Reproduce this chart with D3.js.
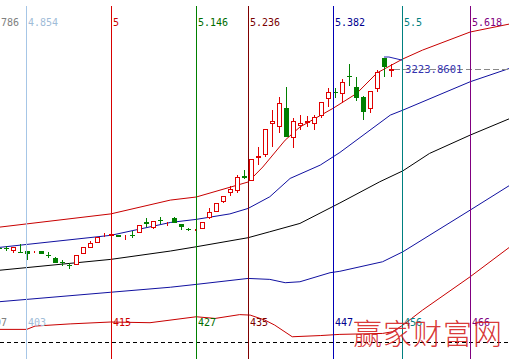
<!DOCTYPE html>
<html><head><meta charset="utf-8">
<script src="https://cdn.jsdelivr.net/npm/d3@7/dist/d3.min.js"></script>
<style>html,body{margin:0;padding:0;background:#fff;overflow:hidden}</style>
</head><body>
<svg id="c" width="509" height="359"></svg>
<script>
// ---- data ----
const barStart = 399;
const opens  = [2472,2472,2467,2458,2460,2455,2462,2444,2433,2415,2402,2407,2454,2479,2500,2531,2528,2529,2524,2528,2542,2584,2561,2590,2577,2601,2573,2554,2548,2556,2605,2630,2671,2709,2717,2777,2759,2854,2869,3000,2986,3060,2941,2992,3005,2999,3032,3102,3129,3123,3198,3149,3107,3063,3147,3270,3220.5];
const highs  = [2474,2481,2477,2492,2461,2461,2463,2457,2435,2423,2411,2444,2480,2503,2522,2536,2534,2530,2527,2545,2571,2601,2589,2604,2581,2602,2574,2558,2554,2584,2642,2662,2693,2734,2780,2801,2846,2899,2973,3053,3109,3151,3018,3032,3030,3032,3088,3144,3144,3182,3245,3191,3112,3134,3221,3271,3245];
const lows   = [2468,2461,2453,2455,2425,2452,2449,2430,2410,2400,2386,2406,2453,2475,2499,2520,2526,2521,2507,2516,2537,2563,2554,2575,2566,2579,2549,2547,2544,2556,2596,2630,2663,2692,2705,2762,2759,2822,2856,2899,2958,2938,2892,2969,2982,2969,3018,3067,3102,3081,3154,3092,3011,3042,3130,3193,3193];
const closes = [2470,2470,2477,2456,2449,2458,2450,2440,2412,2409,2397,2444,2479,2496,2521,2534,2531,2522,2526,2523,2570,2573,2588,2586,2580,2580,2561,2551,2551,2584,2626,2661,2692,2720,2771,2769,2846,2860,2972,3008,3084,2939,3007,3000,3009,3022,3088,3127,3125,3172,3194,3102,3046,3134,3212,3235,3223.8601];

const upperRed  = [[399,2561],[415,2617],[423.5,2675],[427.2,2688],[434.6,2751],[436.7,2814],[439.9,2927],[442,2982],[446.7,3060],[450.1,3123],[453,3209],[456.7,3268],[459.5,3305],[466.3,3381],[472,3415]];
const upperBlue = [[399,2476],[415,2527],[423.5,2581],[427.2,2594],[432,2617],[434.6,2640],[437.7,2689],[440.6,2766],[444.9,2822],[447.7,2875],[454.9,3032],[456.7,3053],[466.3,3172],[472,3229]];
const midBlack  = [[399,2380],[415,2426],[423.5,2461],[427.2,2479],[434.6,2517],[437.7,2542],[442,2577],[447.7,2663],[453.4,2752],[456.7,2798],[460.5,2871],[466.3,2948],[472,3018]];
const lowerBlue = [[399,2248],[415,2288],[423.5,2309],[427.2,2321],[434.6,2346],[437.7,2342],[439.9,2328],[442,2332],[446.3,2370],[447.7,2376],[453.8,2416],[456.7,2458],[466.3,2633],[472,2738]];
const lowerRed  = [[399,2132],[403,2132],[404.2,2146],[409.2,2155],[415,2163],[420.6,2160],[427.2,2185],[429.9,2178],[433.4,2194],[434.9,2192],[437,2171],[438.4,2150],[440.9,2101],[444.9,2106],[447.7,2111],[453.8,2115],[455.2,2122],[456.7,2150],[459.5,2213],[466.3,2353],[472,2479]];
const peakLine  = [[454,3276],[454.7,3276],[456.7,3262]];

const fibRatios = [4.786, 4.854, 5, 5.146, 5.236, 5.382, 5.5, 5.618];
const fibTop    = ["4.786","4.854","5","5.146","5.236","5.382","5.5","5.618"];
const fibBottom = ["397","403","415","427","435","447","456","466"];
const fibColors = ["#808080","#a6c6e6","#d80000","#008000","#800000","#0000b8","#008080","#800080"];
const fibText   = ["#808080","#9fbcd8","#cc0000","#006c00","#7a0000","#000090","#008080","#800080"];

const lastPrice = 3223.8601;
const watermark = "赢家财富网";

// ---- scales ----
const W = 509, H = 359;
const svg = d3.select("#c");
svg.append("rect").attr("width", W).attr("height", H).attr("fill", "#fff");

const x = d3.scaleLinear().domain([400, 455]).range([5.7, 391]);
const y = d3.scaleLinear().domain([2100, 3500]).range([337, 3.67]);
const xr = d3.scaleLinear().domain([5, 5.618]).range([x(415.13), x(466.38)]);

const line = d3.line().x(d => x(d[0])).y(d => y(d[1]));
const mono = "DejaVu Sans Mono";

// bottom dashed separator
svg.append("line").attr("x1", 0).attr("x2", W).attr("y1", 342.5).attr("y2", 342.5)
  .attr("stroke", "#000").attr("stroke-dasharray", "4,3");

// bands
const bands = [
  [upperRed, "#c80000"], [upperBlue, "#1010a0"], [midBlack, "#000"],
  [lowerBlue, "#1010a0"], [lowerRed, "#c80000"], [peakLine, "#2020b0"]
];
bands.forEach(([d, c]) => {
  svg.append("path").attr("d", line(d)).attr("fill", "none").attr("stroke", c).attr("stroke-width", 1);
});

// candles
const candles = opens.map((o, i) => ({i: barStart + i, o, h: highs[i], l: lows[i], c: closes[i]}));
const g = svg.append("g");
candles.forEach(d => {
  const cx = Math.round(x(d.i)) + 0.5;
  const up = d.c >= d.o;
  const col = up ? "#e00000" : "#008000";
  g.append("line").attr("x1", cx).attr("x2", cx)
    .attr("y1", Math.round(y(d.h))).attr("y2", Math.round(y(d.l)))
    .attr("stroke", col);
  const top = Math.round(y(Math.max(d.o, d.c)));
  const bot = Math.round(y(Math.min(d.o, d.c)));
  if (up) {
    const hgt = Math.max(0, bot - top);
    g.append("rect").attr("x", cx - 2).attr("y", top + 0.5)
      .attr("width", 4).attr("height", hgt)
      .attr("fill", "#fff").attr("stroke", col);
  } else {
    g.append("rect").attr("x", cx - 2.5).attr("y", top)
      .attr("width", 5).attr("height", Math.max(1, bot - top))
      .attr("fill", col);
  }
});

// last price dashed line + label
const yl = Math.round(y(lastPrice)) + 0.5;
svg.append("line").attr("x1", x(455) + 3).attr("x2", W).attr("y1", yl).attr("y2", yl)
  .attr("stroke", "#888").attr("stroke-dasharray", "6,3");
svg.append("text").attr("x", 405).attr("y", yl + 3.5)
  .attr("font-family", mono).attr("font-size", 10.6)
  .attr("fill", "#3434b0").text(lastPrice.toFixed(4));

// fibonacci time zones
fibRatios.forEach((r, k) => {
  const fx = Math.floor(xr(r)) + 0.5;
  svg.append("line").attr("x1", fx).attr("x2", fx).attr("y1", 6).attr("y2", H)
    .attr("stroke", fibColors[k]);
  svg.append("text").attr("x", fx + 1.5).attr("y", 26)
    .attr("font-family", mono).attr("font-size", 10)
    .attr("fill", fibText[k]).text(fibTop[k]);
  svg.append("text").attr("x", fx + 1.5).attr("y", 326)
    .attr("font-family", mono).attr("font-size", 10)
    .attr("fill", fibText[k]).text(fibBottom[k]);
});

// watermark
svg.append("text").attr("x", 353).attr("y", 345)
  .attr("font-family", "Noto Sans CJK SC").attr("font-size", 29).attr("font-weight", 300)
  .attr("letter-spacing", 1).attr("fill", "#d42020").attr("fill-opacity", 0.9)
  .text(watermark);
</script>
</body></html>
